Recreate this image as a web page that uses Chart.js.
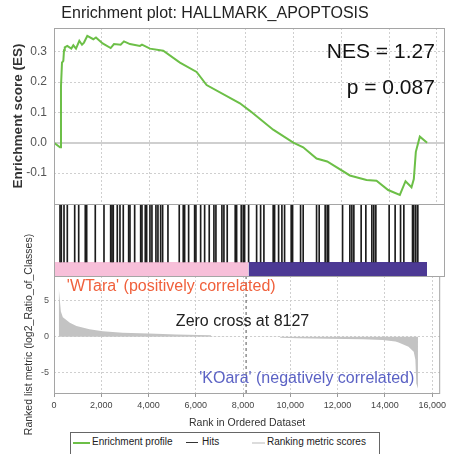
<!DOCTYPE html>
<html>
<head>
<meta charset="utf-8">
<script src="https://cdn.jsdelivr.net/npm/chart.js@4.4.1/dist/chart.umd.min.js"></script>
<style>
  body { margin: 0; background: #fff; overflow: hidden; }
  #wrap { position: relative; width: 449px; height: 454px; }
  canvas { position: absolute; left: 0; top: 0; }
  #legend {
    position: absolute; left: 70px; top: 432px; width: 308px; height: 30px;
    border: 1px solid #666; background: #fff;
    font: 10px "Liberation Sans", Arial, sans-serif; color: #222;
  }
  #legend span { position: absolute; top: 3px; white-space: nowrap; }
  #legend i { position: absolute; top: 9px; display: block; }
</style>
</head>
<body>
<div id="wrap">
  <canvas id="es-chart" width="449" height="454"></canvas>
  <canvas id="hits-chart" width="449" height="454"></canvas>
  <canvas id="metric-chart" width="449" height="454"></canvas>
  <div id="legend">
    <i style="left:2px;width:17px;height:2px;background:#6cbf47"></i><span style="left:21px">Enrichment profile</span>
    <i style="left:115px;width:12px;height:1px;background:#333"></i><span style="left:131px">Hits</span>
    <i style="left:181px;width:13px;height:2px;background:#dcdcdc"></i><span style="left:196px">Ranking metric scores</span>
  </div>
</div>
<script>
const FONT = "'Liberation Sans', Arial, sans-serif";
const GRID = "#cfcfcf";

const setName = "HALLMARK_APOPTOSIS";
const nes = 1.27;
const pValue = 0.087;
const zeroCross = 8127;
const listSize = 15590;
const posLabel = "'WTara' (positively correlated)";
const negLabel = "'KOara' (negatively correlated)";

// running enrichment score
const esRanks = [0, 251, 292, 334, 390, 418, 450, 556, 724, 808, 919, 1058, 1170, 1253, 1392,
  1643, 1754, 2033, 2368, 2506, 2785, 2924, 3175, 3592, 3676, 4010, 4566, 5263, 5960, 6378,
  7770, 8187, 9160, 10000, 10414, 10973, 11416, 12364, 13060, 13478, 13965, 14453, 14690,
  14940, 15037, 15121, 15288, 15593];
const esScores = [0, -0.015, 0.185, 0.264, 0.27, 0.305, 0.314, 0.319, 0.31, 0.321, 0.31, 0.336,
  0.323, 0.33, 0.352, 0.341, 0.347, 0.327, 0.312, 0.325, 0.323, 0.334, 0.325, 0.319, 0.323,
  0.31, 0.303, 0.264, 0.233, 0.19, 0.13, 0.105, 0.043, 0.0, -0.015, -0.052, -0.062, -0.108,
  -0.123, -0.125, -0.156, -0.172, -0.127, -0.147, -0.12, -0.03, 0.02, 0.0];

// gene set members in the ranked list
const hitRanks = [251, 305, 418, 556, 865, 1032, 1307, 1366, 1725, 2089, 2368, 2423, 2477, 2644,
  2757, 2895, 3120, 3175, 3371, 3622, 3676, 3814, 3872, 4010, 4093, 4260, 4344, 4457, 4540,
  4762, 5234, 5401, 5459, 5626, 5877, 5931, 6128, 6295, 6487, 6683, 6767, 7017, 7101, 7239,
  7573, 7632, 7824, 7907, 7966, 8133, 8467, 8634, 8772, 9160, 9219, 9386, 9524, 9636, 9912,
  9971, 10305, 10414, 10973, 11082, 11332, 11416, 11474, 12059, 12364, 12448, 12531, 12836,
  13032, 13283, 13366, 13450, 14006, 14256, 14482, 14620, 14983, 15037, 15121, 15204];

// ranked list metric (log2 ratio)
const metricRanks = [200, 290, 375, 670, 950, 1500, 2060, 2900, 4000, 5200, 6100, 6640, 6660,
  8127, 9560, 9580, 10300, 11600, 13075, 13900, 14450, 14580, 15000, 15220, 15290, 15330, 15400];
const metricValues = [6.8, 3.5, 2.7, 1.95, 1.5, 1.03, 0.75, 0.56, 0.43, 0.32, 0.24, 0.2, 0.04,
  0, -0.04, -0.15, -0.2, -0.28, -0.37, -0.47, -0.65, -0.8, -1.4, -2.1, -3.2, -6.5, -7.2];

const rankTicks = [0, 2000, 4000, 6000, 8000, 10000, 12000, 14000, 16000];
const esTicks = [-0.1, 0, 0.1, 0.2, 0.3];
const metricTicks = [-5, 0, 5];

const RANK_MAX = 16340;
const ES_MIN = -0.202, ES_MAX = 0.378;
const METRIC_MIN = -7.82, METRIC_MAX = 8.43;
const HIT_BASE = 0.195;

function pairs(xs, ys) {
  return xs.map((x, i) => ({ x: x, y: ys[i] }));
}

function fixedTicks(list) {
  return (scale) => { scale.ticks = list.map((v) => ({ value: v })); };
}

// box around the plot area, optional solid zero line
const frame = {
  id: "frame",
  beforeDatasetsDraw(chart, args, opts) {
    if (!opts.zeroLine) return;
    const ctx = chart.ctx, a = chart.chartArea;
    const y = Math.round(chart.scales.y.getPixelForValue(0)) + 0.5;
    ctx.save();
    ctx.strokeStyle = GRID;
    ctx.lineWidth = 1;
    ctx.beginPath();
    ctx.moveTo(a.left, y);
    ctx.lineTo(a.right, y);
    ctx.stroke();
    ctx.restore();
  },
  afterDraw(chart, args, opts) {
    const ctx = chart.ctx, a = chart.chartArea;
    ctx.save();
    ctx.strokeStyle = opts.color || "#a5a5a5";
    ctx.lineWidth = 1;
    ctx.strokeRect(a.left + 0.5, a.top + 0.5, a.right - a.left - 1, a.bottom - a.top);
    ctx.restore();
  },
};

// free text: data coordinates unless pixel is set
const notes = {
  id: "notes",
  afterDraw(chart, args, opts) {
    const ctx = chart.ctx;
    ctx.save();
    (opts.items || []).forEach((n) => {
      const x = n.pixel ? n.x : chart.scales.x.getPixelForValue(n.x);
      const y = n.pixel ? n.y : chart.scales.y.getPixelForValue(n.y);
      ctx.font = (n.weight || "normal") + " " + n.size + "px " + FONT;
      ctx.fillStyle = n.color || "#222";
      ctx.textAlign = n.align || "left";
      ctx.textBaseline = "middle";
      ctx.fillText(n.text, x, y);
    });
    ctx.restore();
  },
};

const common = {
  responsive: false,
  animation: false,
  events: [],
};

// top panel: enrichment score
new Chart(document.getElementById("es-chart"), {
  type: "line",
  data: {
    datasets: [{
      data: pairs(esRanks, esScores),
      borderColor: "#6cbf47",
      borderWidth: 2,
      pointRadius: 0,
      tension: 0,
    }],
  },
  options: {
    ...common,
    layout: { padding: { top: 28, right: 4, bottom: 250, left: 0 } },
    scales: {
      x: {
        type: "linear", min: 0, max: RANK_MAX,
        afterFit: (s) => { s.height = 0; },
        afterBuildTicks: fixedTicks(rankTicks),
        ticks: { display: false },
        grid: { color: GRID, drawTicks: false },
        border: { display: false, dash: [2, 2] },
      },
      y: {
        min: ES_MIN, max: ES_MAX,
        afterFit: (s) => { s.width = 54; },
        afterBuildTicks: fixedTicks(esTicks),
        ticks: {
          padding: 7, color: "#555",
          font: { size: 12, family: FONT },
          callback: (v) => v.toFixed(1),
        },
        grid: { color: GRID, drawTicks: false },
        border: { display: false, dash: (c) => (c.tick && c.tick.value === 0 ? [] : [2, 2]) },
        title: {
          display: true, text: "Enrichment score (ES)", color: "#333",
          font: { size: 13.5, weight: "bold", family: FONT },
          padding: { top: 10, bottom: 0 },
        },
      },
    },
    plugins: {
      legend: { display: false },
      tooltip: { enabled: false },
      frame: { zeroLine: true },
      notes: {
        items: [
          { text: "Enrichment plot: " + setName, x: 215, y: 14, pixel: true, size: 16, align: "center", color: "#222" },
          { text: "NES = " + nes.toFixed(2), x: 15915, y: 0.299, size: 21, align: "right", color: "#111" },
          { text: "p = " + pValue, x: 15915, y: 0.18, size: 21, align: "right", color: "#111" },
        ],
      },
    },
  },
  plugins: [frame, notes],
});

// middle panel: hit positions and class colour bar
new Chart(document.getElementById("hits-chart"), {
  type: "bar",
  data: {
    datasets: [
      {
        type: "bar",
        data: hitRanks.map((r) => ({ x: r, y: [HIT_BASE, 1] })),
        backgroundColor: "#1c1c1c",
        barThickness: 1,
        borderWidth: 0,
      },
      {
        type: "line",
        data: [{ x: 0, y: HIT_BASE }, { x: zeroCross, y: HIT_BASE }],
        fill: "origin", backgroundColor: "#f7bfd9",
        borderWidth: 0, pointRadius: 0,
      },
      {
        type: "line",
        data: [{ x: zeroCross, y: HIT_BASE }, { x: listSize, y: HIT_BASE }],
        fill: "origin", backgroundColor: "#4c3994",
        borderWidth: 0, pointRadius: 0,
      },
    ],
  },
  options: {
    ...common,
    layout: { padding: { top: 204, right: 4, bottom: 178, left: 0 } },
    scales: {
      x: {
        type: "linear", min: 0, max: RANK_MAX, offset: false,
        afterFit: (s) => { s.height = 0; },
        ticks: { display: false },
        grid: { display: false },
        border: { display: false },
      },
      y: {
        min: 0, max: 1,
        afterFit: (s) => { s.width = 54; },
        ticks: { display: false },
        grid: { display: false },
        border: { display: false },
      },
    },
    plugins: {
      legend: { display: false },
      tooltip: { enabled: false },
      frame: {},
    },
  },
  plugins: [frame],
});

// bottom panel: ranked list metric
new Chart(document.getElementById("metric-chart"), {
  type: "line",
  data: {
    datasets: [
      {
        data: pairs(metricRanks, metricValues),
        fill: "origin", backgroundColor: "#c3c3c3",
        borderWidth: 0, pointRadius: 0, tension: 0,
      },
      {
        data: [{ x: zeroCross, y: METRIC_MIN }, { x: zeroCross, y: METRIC_MAX }],
        borderColor: "#555", borderWidth: 1, borderDash: [3, 3],
        pointRadius: 0, fill: false,
      },
    ],
  },
  options: {
    ...common,
    layout: { padding: { top: 276, right: 4, bottom: 25, left: 0 } },
    scales: {
      x: {
        type: "linear", min: 0, max: RANK_MAX,
        afterFit: (s) => { s.height = 36; },
        afterBuildTicks: fixedTicks(rankTicks),
        ticks: {
          padding: 3, color: "#444", maxRotation: 0, autoSkip: false,
          font: { size: 9, family: FONT },
        },
        grid: { color: GRID, tickColor: "#999", tickLength: 4 },
        border: { display: false, dash: [2, 2] },
        title: {
          display: true, text: "Rank in Ordered Dataset", color: "#333",
          font: { size: 10.5, family: FONT },
          padding: { top: 4, bottom: 0 },
        },
      },
      y: {
        min: METRIC_MIN, max: METRIC_MAX,
        afterFit: (s) => { s.width = 54; },
        afterBuildTicks: fixedTicks(metricTicks),
        ticks: { padding: 5, color: "#555", font: { size: 9, family: FONT } },
        grid: { color: GRID, drawTicks: false },
        border: { display: false, dash: [2, 2] },
        title: {
          display: true, text: "Ranked list metric (log2_Ratio_of_Classes)", color: "#333",
          font: { size: 10.5, family: FONT },
          padding: { top: 23, bottom: 0 },
        },
      },
    },
    plugins: {
      legend: { display: false },
      tooltip: { enabled: false },
      frame: {},
      notes: {
        items: [
          { text: posLabel, x: 543, y: 6.9, size: 16, align: "left", color: "#f0603c" },
          { text: "Zero cross at " + zeroCross, x: 7978, y: 2.04, size: 16, align: "center", color: "#222" },
          { text: negLabel, x: 15246, y: -5.87, size: 16, align: "right", color: "#5b62c4" },
        ],
      },
    },
  },
  plugins: [frame, notes],
});
</script>
</body>
</html>
